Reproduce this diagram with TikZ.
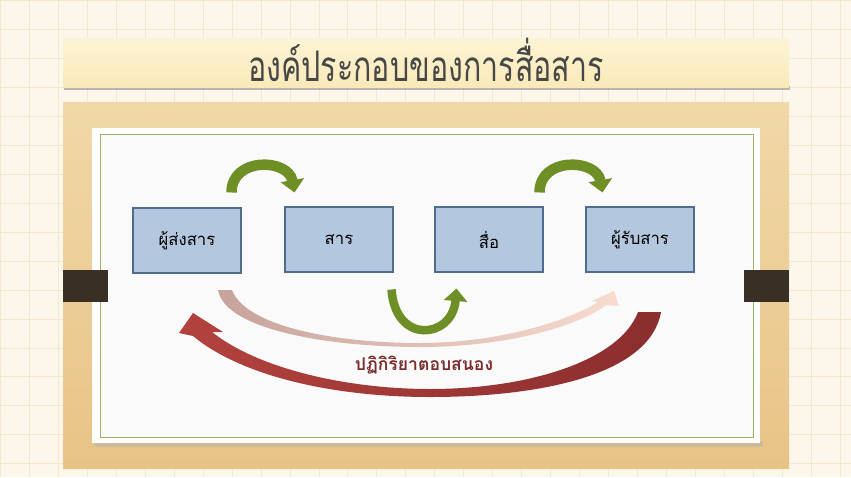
\documentclass[tikz,border=0pt]{standalone}
\usepackage{fontspec}
\newfontfamily\thaifont[Script=Thai]{Loma}
\usetikzlibrary{arrows.meta,positioning}

\definecolor{paper}{HTML}{FDF6EA}
\definecolor{gridline}{HTML}{F4E7CF}
\definecolor{banner}{HTML}{FAEFC2}
\definecolor{wood}{HTML}{E8C386}
\definecolor{woodlight}{HTML}{F1D8A8}
\definecolor{tab}{HTML}{3A2F24}
\definecolor{boxfill}{HTML}{B3C7DF}
\definecolor{boxline}{HTML}{4F6B8F}
\definecolor{olive}{HTML}{6E8F26}
\definecolor{fbred}{HTML}{7B2C2C}
\definecolor{redleft}{HTML}{B3423E}
\definecolor{redmid}{HTML}{A65A58}
\definecolor{redright}{HTML}{8A2E2E}
\definecolor{pinkleft}{HTML}{C6A39B}
\definecolor{pinkmid}{HTML}{D39A80}
\definecolor{pinkright}{HTML}{F7DCCF}

\begin{document}
\begin{tikzpicture}[x=0.02cm,y=-0.02cm,
  box/.style={draw=boxline, fill=boxfill, line width=0.6pt, minimum width=2.16cm,
    minimum height=1.3cm, inner sep=0pt, font=\thaifont\fontsize{9.5}{12}\selectfont},
  greenarc/.style={draw=olive, line width=0.21cm, -{Triangle[width=0.46cm,length=0.25cm]}},
  fbtext/.style={text=fbred, font=\thaifont\bfseries\fontsize{10}{12}\selectfont}]

\useasboundingbox (0,0) rectangle (851,477);

% paper with grid
\fill[paper] (0,0) rectangle (851,477);
\draw[gridline, line width=0.5pt] (0,0) grid[step=0.58cm] (851,477);

% title banner
\fill[black!45, opacity=0.6] (64,86) rectangle (790,90);
\shade[top color=banner!70!white, bottom color=banner!95!orange] (63,38) rectangle (789,87);
\node[text=black!72, font=\thaifont\fontsize{24}{28}\selectfont] (title) at (426,60) {\scalebox{0.72}[1]{องค์ประกอบของการสื่อสาร}};

% wooden frame
\shade[top color=woodlight, bottom color=wood] (63,102) rectangle (789,468);
\fill[woodlight, opacity=0.6] (63,102) rectangle (789,112);

% the board
\fill[black!30, opacity=0.5] (95,441) rectangle (763,447);
\fill[white] (92,128) rectangle (760,443);
\fill[black!2] (100,134) rectangle (753,437);
\draw[olive!70, line width=0.5pt] (100,134) rectangle (753,437);

% hanging tabs
\fill[tab] (63,270) rectangle (108,302);
\fill[tab] (744,270) rectangle (789,302);

% the boxes
\node[box] (sndr) at (187,240.5) {ผู้ส่งสาร};
\node[box] (msg) at (339,239.5) {สาร};
\node[box] (media) at (489,239.5) {สื่อ};
\node[box] (rcv) at (640,239.5) {ผู้รับสาร};

% green arrows
\draw[greenarc] ([shift={(-10,-15)}]sndr.north east) .. controls +(0,-36) and +(-6,-34) .. ([shift={(10,-14)}]msg.north west);
\draw[greenarc] ([shift={(-4,-14)}]media.north east) .. controls +(0,-36) and +(-6,-34) .. ([shift={(17,-14)}]rcv.north west);
\draw[greenarc, line width=0.17cm] ([shift={(-2,17)}]msg.south east) .. controls +(4,56) and +(-4,50) .. ([shift={(22,16)}]media.south west);

% feedback arrows
\shade[left color=pinkleft, middle color=pinkmid, right color=pinkright]
  (218,290) .. controls (225,330) and (330,347) .. (420,347)
  .. controls (510,347) and (580,325) .. (606,305) -- (619,306) -- (614,291) -- (592,301) -- (598,302)
  .. controls (570,320) and (500,343) .. (420,343)
  .. controls (330,343) and (245,325) .. (232,290) -- cycle;
\shade[left color=redleft, middle color=redmid, right color=redright]
  (661,312) .. controls (650,375) and (540,397) .. (430,397)
  .. controls (330,397) and (240,375) .. (193,336) -- (179,333) -- (193,313) -- (223,332) -- (212,332)
  .. controls (260,370) and (350,389) .. (430,389)
  .. controls (530,389) and (620,360) .. (638,312) -- cycle;
\node[fbtext] (fb) at (424,365) {ปฏิกิริยาตอบสนอง};

\end{tikzpicture}
\end{document}
